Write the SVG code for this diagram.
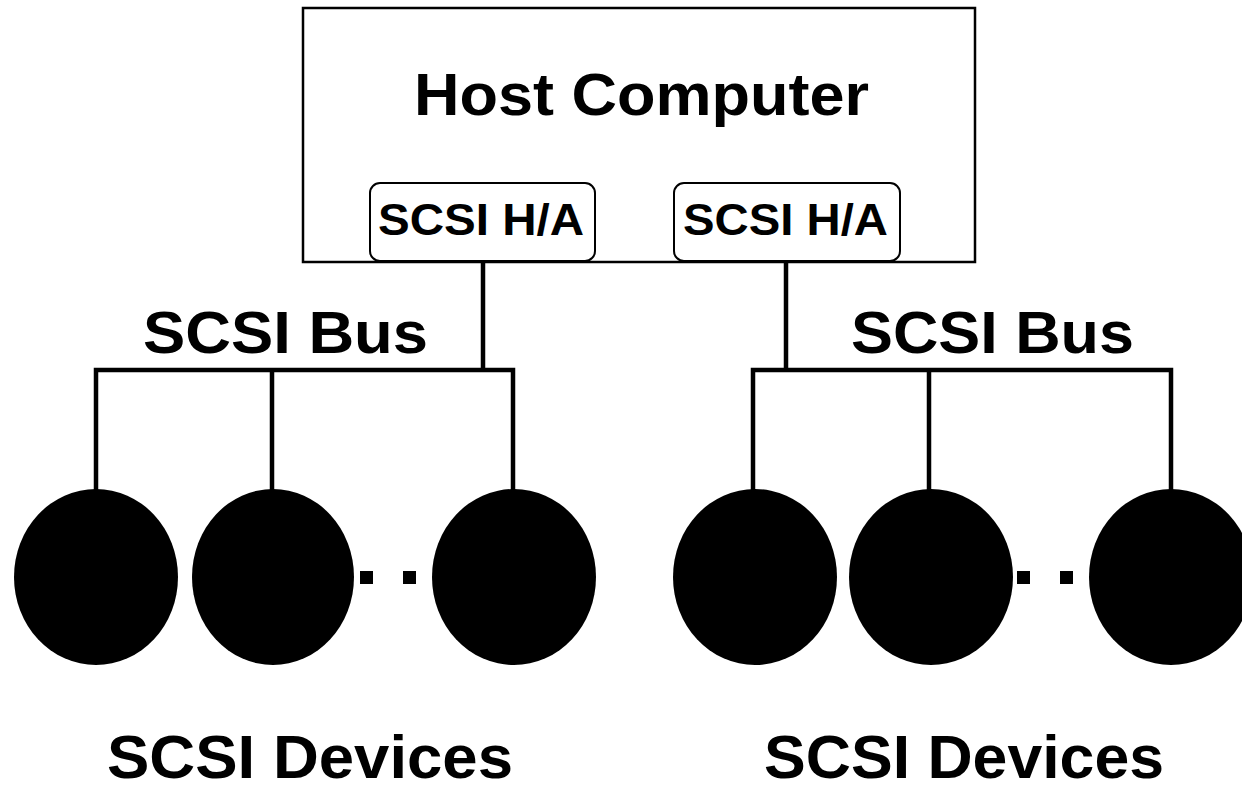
<svg xmlns="http://www.w3.org/2000/svg" width="1242" height="786" viewBox="0 0 1242 786">
<style>
  .t { font-family: "Liberation Sans", Arial, sans-serif; font-weight: bold; fill: #000; }
  .box { fill: #fff; stroke: #000; stroke-width: 2.5; }
  .ha { fill: #fff; stroke: #000; stroke-width: 2; }
  .wire { fill: none; stroke: #000; stroke-width: 4.5; stroke-linecap: square; }
  .dev { fill: #000; }
</style>
<rect width="1242" height="786" fill="#fff"/>
<g id="connectors">
  <path class="wire" d="M483 262 V370 M96 492 V370 H513 V492 M272 370 V492"/>
  <path class="wire" d="M786 262 V370 M753 492 V370 H1171 V492 M929 370 V492"/>
</g>
<g id="host">
  <rect class="box" x="303" y="8" width="672" height="254"/>
  <text class="t" x="414" y="115" font-size="60" textLength="455" lengthAdjust="spacingAndGlyphs">Host Computer</text>
</g>
<g id="ha1">
  <rect class="ha" x="370" y="183" width="225" height="78" rx="10"/>
  <text class="t" x="378" y="235" font-size="45" textLength="206" lengthAdjust="spacingAndGlyphs">SCSI H/A</text>
</g>
<g id="ha2">
  <rect class="ha" x="674" y="183" width="226" height="78" rx="10"/>
  <text class="t" x="683" y="235" font-size="45" textLength="205" lengthAdjust="spacingAndGlyphs">SCSI H/A</text>
</g>
<g id="bus1-label">
  <text class="t" x="143" y="353" font-size="59" textLength="285" lengthAdjust="spacingAndGlyphs">SCSI Bus</text>
</g>
<g id="bus2-label">
  <text class="t" x="851" y="353" font-size="59" textLength="283" lengthAdjust="spacingAndGlyphs">SCSI Bus</text>
</g>
<g id="devices1">
  <ellipse class="dev" cx="96" cy="577" rx="82" ry="88"/>
  <ellipse class="dev" cx="273" cy="577" rx="81" ry="88"/>
  <ellipse class="dev" cx="514" cy="577" rx="82" ry="88"/>
  <rect class="dev" x="360" y="571" width="13" height="13"/>
  <rect class="dev" x="403" y="571" width="13" height="13"/>
</g>
<g id="devices2">
  <ellipse class="dev" cx="755" cy="577" rx="82" ry="88"/>
  <ellipse class="dev" cx="931" cy="577" rx="82" ry="88"/>
  <ellipse class="dev" cx="1171" cy="577" rx="82" ry="88"/>
  <rect class="dev" x="1017" y="571" width="13" height="13"/>
  <rect class="dev" x="1060" y="571" width="13" height="13"/>
</g>
<g id="devices1-label">
  <text class="t" x="107" y="778" font-size="61" textLength="406" lengthAdjust="spacingAndGlyphs">SCSI Devices</text>
</g>
<g id="devices2-label">
  <text class="t" x="764" y="778" font-size="61" textLength="400" lengthAdjust="spacingAndGlyphs">SCSI Devices</text>
</g>
</svg>
